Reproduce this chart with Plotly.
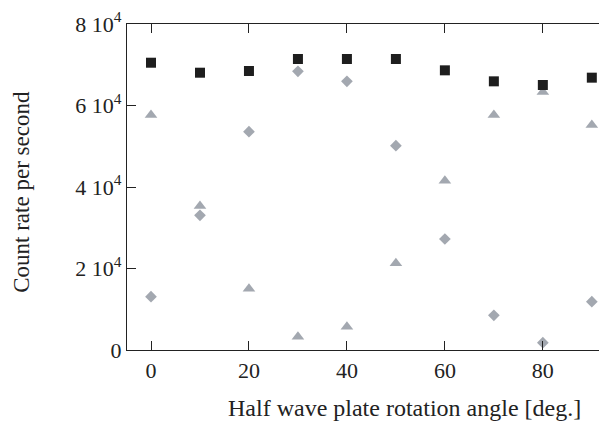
import plotly.graph_objects as go

angles = [0, 10, 20, 30, 40, 50, 60, 70, 80, 90]
total = [70500, 68050, 68470, 71410, 71410, 71410, 68630, 65930, 65030, 66830]
diamonds = [13080, 33050, 53580, 68380, 65930, 50140, 27240, 8510, 1800, 11860]
triangles = [57670, 35340, 15050, 3270, 5730, 21270, 41550, 57670, 63310, 55210]

x_ticks = [0, 20, 40, 60, 80]
y_ticks = [0, 20000, 40000, 60000, 80000]
y_ticklabels = ["0", "2 10<sup>4</sup>", "4 10<sup>4</sup>", "6 10<sup>4</sup>", "8 10<sup>4</sup>"]
x_title = "Half wave plate rotation angle [deg.]"
y_title = "Count rate per second"

gray = "#a3a8b0"
font = "Liberation Serif, Times New Roman, serif"

fig = go.Figure()
fig.add_trace(go.Scatter(x=angles, y=triangles, mode="markers",
                         marker=dict(symbol="triangle-up", size=11, color=gray)))
fig.add_trace(go.Scatter(x=angles, y=diamonds, mode="markers",
                         marker=dict(symbol="diamond", size=9, color=gray)))
fig.add_trace(go.Scatter(x=angles, y=total, mode="markers",
                         marker=dict(symbol="square", size=10, color="#1e1e1e")))

fig.update_layout(
    width=599, height=413,
    margin=dict(l=119, r=0, t=16, b=71),
    paper_bgcolor="white", plot_bgcolor="white",
    showlegend=False,
    font=dict(family=font, size=22, color="#222"),
)
fig.update_xaxes(
    range=[-4.9, 93.1], tickvals=x_ticks, ticks="inside", ticklen=9,
    tickcolor="#222", showline=True, linecolor="#222", linewidth=1.2,
    mirror="ticks", showgrid=False, zeroline=False,
    tickfont=dict(size=22),
)
fig.update_yaxes(
    range=[0, 80000], tickvals=y_ticks, ticktext=y_ticklabels,
    ticks="inside", ticklen=9, tickcolor="#222",
    showline=True, linecolor="#222", linewidth=1.2,
    showgrid=False, zeroline=False,
    tickfont=dict(size=22),
)
fig.add_annotation(text=x_title, xref="paper", yref="paper", x=0.579, y=-0.178,
                   xanchor="center", yanchor="middle", showarrow=False,
                   font=dict(size=24))
fig.add_annotation(text=y_title, xref="paper", yref="paper", x=-0.219, y=0.485,
                   xanchor="center", yanchor="middle", textangle=-90, showarrow=False,
                   font=dict(size=23))
fig.write_html("out.html")
